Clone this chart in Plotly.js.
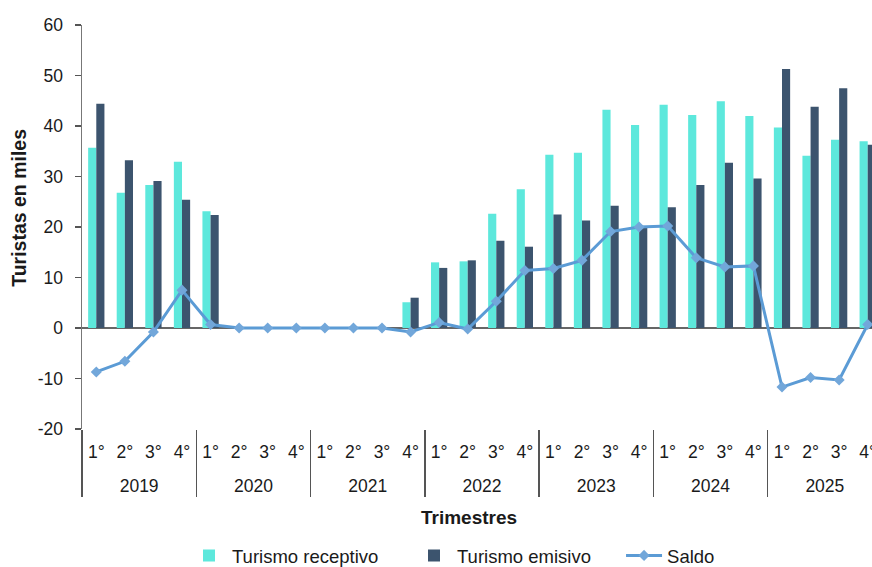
<!DOCTYPE html>
<html>
<head>
<meta charset="utf-8">
<script src="https://cdn.plot.ly/plotly-3.0.1.min.js"></script>
<style>
html,body{margin:0;padding:0;overflow:hidden;background:#fff;width:872px;height:567px;}
#chart{width:882px;height:567px;}
</style>
</head>
<body>
<div id="chart"></div>
<script>
const years = ['2019','2020','2021','2022','2023','2024','2025'];
const quarters = ['1°','2°','3°','4°'];
const yTickVals = [-20, -10, 0, 10, 20, 30, 40, 50, 60];
const yTickText = ['-20', '-10', '0', '10', '20', '30', '40', '50', '60'];

const receptivo = [35.7, 26.8, 28.3, 32.9,
                   23.1, 0, 0, 0,
                   0, 0, 0, 5.1,
                   13.0, 13.2, 22.6, 27.5,
                   34.3, 34.7, 43.2, 40.2,
                   44.2, 42.2, 44.9, 42.0,
                   39.7, 34.1, 37.3, 37.0];
const emisivo = [44.4, 33.2, 29.1, 25.4,
                 22.4, 0, 0, 0,
                 0, 0, 0, 6.0,
                 11.9, 13.4, 17.3, 16.1,
                 22.5, 21.3, 24.2, 20.2,
                 23.9, 28.3, 32.7, 29.6,
                 51.3, 43.8, 47.5, 36.3];
const saldo = [-8.7, -6.6, -0.8, 7.5,
               0.7, 0, 0, 0,
               0, 0, 0, -0.8,
               1.1, -0.2, 5.3, 11.4,
               11.8, 13.4, 19.1, 20.0,
               20.2, 13.9, 12.1, 12.3,
               -11.7, -9.8, -10.3, 0.7];

// year labels sit one line lower than the quarter labels (as in the original)
const xYears = [], xQuarters = [];
years.forEach(y => quarters.forEach(q => { xYears.push('<br>' + y); xQuarters.push(q); }));
const x = [xYears, xQuarters];

const fam = 'Liberation Sans, Arial, Helvetica, sans-serif';
const f = (size) => ({family: fam, color: '#1a1a1a', size: size});

const traces = [
  {type: 'bar', name: 'Turismo receptivo', x: x, y: receptivo, legend: 'legend',
   marker: {color: '#5DE8DC', line: {width: 0}}},
  {type: 'bar', name: 'Turismo emisivo', x: x, y: emisivo, legend: 'legend2',
   marker: {color: '#3C546E', line: {width: 0}}},
  {type: 'scatter', mode: 'lines+markers', name: 'Saldo', x: x, y: saldo, legend: 'legend3',
   line: {color: '#5B9BD5', width: 3},
   marker: {symbol: 'diamond', size: 8.5, color: '#72A7DA'},
   cliponaxis: false}
];

const legBase = (xp) => ({orientation: 'h', x: xp, xanchor: 'left', y: -0.314, yanchor: 'middle',
  font: f(18.5), itemwidth: 36, bgcolor: 'rgba(0,0,0,0)', borderwidth: 0});

const layout = {
  width: 882, height: 567,
  margin: {l: 82, r: 0, t: 25, b: 138, autoexpand: false},
  paper_bgcolor: '#fff', plot_bgcolor: '#fff',
  font: f(17),
  barmode: 'group', bargap: 0.43, bargroupgap: 0,
  showlegend: true,
  legend: legBase(0.13),
  legend2: legBase(0.41125),
  legend3: legBase(0.6738),
  xaxis: {type: 'multicategory', range: [-0.5, 27.5], autorange: false, automargin: false,
          showgrid: false, zeroline: false, showline: false,
          ticks: '', ticklabelstandoff: 10,
          showdividers: true, dividercolor: '#555', dividerwidth: 1.5,
          tickfont: f(17.5)},
  yaxis: {range: [-20, 60], tickmode: 'array', tickvals: yTickVals, ticktext: yTickText,
          automargin: false, showgrid: false, zeroline: true,
          zerolinecolor: '#666', zerolinewidth: 1.2,
          showline: true, linecolor: '#777', linewidth: 1.5,
          ticks: 'outside', ticklen: 6, tickcolor: '#555', tickwidth: 1.2,
          ticklabelstandoff: 8,
          tickfont: f(17.5)},
  annotations: [
    {text: '<b>Turistas en miles</b>', xref: 'paper', yref: 'paper', x: -0.079, y: 0.547,
     textangle: -90, xanchor: 'center', yanchor: 'middle', showarrow: false, font: f(19.5)},
    {text: '<b>Trimestres</b>', xref: 'paper', yref: 'paper', x: 0.484, y: -0.218,
     xanchor: 'center', yanchor: 'middle', showarrow: false, font: f(19)}
  ]
};

Plotly.newPlot('chart', traces, layout, {displayModeBar: false, staticPlot: true});
</script>
</body>
</html>
